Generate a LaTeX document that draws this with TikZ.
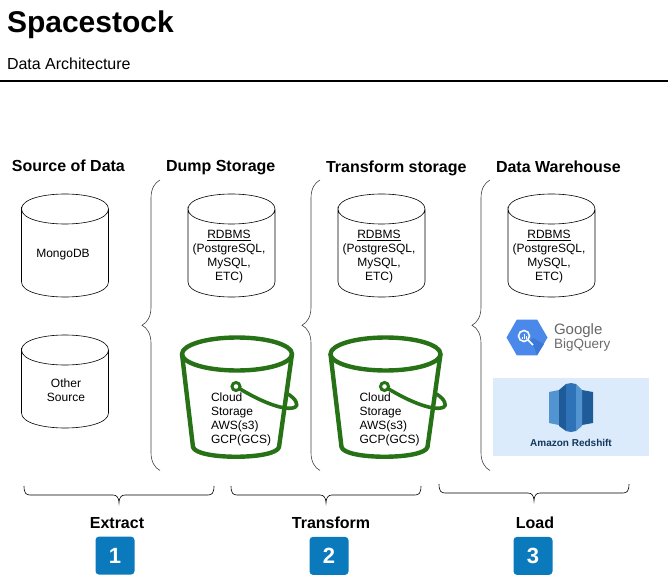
\documentclass[tikz,border=0pt]{standalone}
\usepackage{fontspec}
\setmainfont{Liberation Sans}
\usetikzlibrary{positioning, calc, shapes.geometric, decorations.pathreplacing}
\definecolor{bucketgreen}{HTML}{277116}
\definecolor{badgeblue}{HTML}{0A7ABC}
\definecolor{redshiftbg}{HTML}{DCEBFB}
\definecolor{bqblue}{HTML}{4A89EA}
\definecolor{bqshade}{HTML}{3B78D8}
\definecolor{rsdark}{HTML}{205B99}
\definecolor{rsmid}{HTML}{2E73B8}
\definecolor{rslight}{HTML}{5294CF}
\tikzset{
    x = 1pt,
    y = -1pt,
    inner sep = 0pt,
    outer sep = 0pt,
    heading/.style = {
        font=\fontsize{16}{18}\selectfont\bfseries,
        anchor=base west
    },
    dbtext/.style = {
        font=\fontsize{12}{14}\selectfont,
        align=center
    },
    db/.style = {
        minimum width=87pt,
        anchor=north
    },
    brace/.style = {
        draw,
        semithick,
        color=black!75,
        decorate,
        decoration={brace, amplitude=18pt, aspect=0.5}
    },
    bucketline/.style = {
        draw=bucketgreen,
        line width=4.4pt,
        line join=round
    },
    badge/.style = {
        fill=badgeblue,
        rounded corners=3.5pt,
        minimum width=39pt,
        minimum height=38pt,
        text=white,
        font=\fontsize{22}{24}\selectfont\bfseries
    },
    stage/.style = {
        font=\fontsize{16}{18}\selectfont\bfseries
    }
}
% outline of a database node
\newcommand{\dbdraw}[1]{
    \draw[semithick] ($(#1.north west) + (0, 15)$) .. controls +(0, -20) and +(0, -20) .. ($(#1.north east) + (0, 15)$)
        .. controls +(0, 20) and +(0, 20) .. ($(#1.north west) + (0, 15)$)
        -- ($(#1.south west) + (0, -15)$) .. controls +(0, 20) and +(0, 20) .. ($(#1.south east) + (0, -15)$)
        -- ($(#1.north east) + (0, 15)$);
}

\begin{document}
\begin{tikzpicture}
    \useasboundingbox (0, 0) rectangle (670, 575);

    % header
    \node[anchor=base west, font=\fontsize{30}{32}\selectfont\bfseries] (title) at (7, 33) {Spacestock};
    \node[anchor=base west, font=\fontsize{16}{18}\selectfont] (subtitle) at (7, 69.5) {Data Architecture};
    \coordinate (ruleL) at (0, 81);
    \coordinate (ruleR) at (668, 81);
    \draw[line width=1.5pt] (ruleL) -- (ruleR);

    % column headings
    \node[heading] (source) at (12, 172) {Source of Data};
    \node[heading] (dump) at (166, 172) {Dump Storage};
    \node[heading] (transform) at (326, 173) {Transform storage};
    \node[heading] (warehouse) at (496, 173) {Data Warehouse};

    % databases
    \node[db, minimum height=103pt] (mongo) at (65, 194) {};
    \dbdraw{mongo}
    \node[dbtext] (mongotext) at (63, 255) {MongoDB};
    \node[db, minimum height=93pt] (other) at (65, 335) {};
    \dbdraw{other}
    \node[dbtext] (othertext) at (66, 390) {Other\\Source};
    \foreach \name/\x in {dumpdb/231.5, transformdb/381.5, warehousedb/551.5}{
        \node[db, minimum height=103pt] (\name) at (\x, 194) {};
        \dbdraw{\name}
        \node[dbtext] (\name text) at ($(\name.north) + (-2.5, 63)$) {\underline{RDBMS}\\(PostgreSQL,\\MySQL,\\ETC)};
    }

    % buckets
    \foreach \name/\dx in {dumpbucket/0, transformbucket/148.5}{
        \begin{scope}[xshift=\dx pt]
            \draw[bucketline] (182, 354) -- (193, 447) .. controls (196, 460) and (276, 460) .. (279, 447) -- (292, 354);
            \node[bucketline, ellipse, minimum width=110pt, minimum height=33pt] (\name) at (237, 354) {};
            \node[draw=bucketgreen, line width=3pt, circle, minimum size=8pt] (\name hook) at (236, 386.5) {};
            \draw[bucketline, line width=3.6pt] (\name hook) .. controls (255, 398) and (272, 406) .. (285, 408) .. controls (294, 409) and (299, 407) .. (296, 402) .. controls (295, 399) and (291, 396) .. (288, 394);
            \node[dbtext, align=left, anchor=north west] (\name text) at (211, 393) {Cloud\\Storage\\AWS(s3)\\GCP(GCS)};
        \end{scope}
    }

    % big query logo
    \node[fill=bqblue, regular polygon, regular polygon sides=6, minimum size=41pt] (bqhex) at (527, 337.5) {};
    \fill[bqshade] (529, 342) -- (533, 338) -- (544, 344) -- (537, 355) -- (534, 347) -- cycle;
    \draw[white, line width=1.6pt] (524, 336) circle (5.5) (528, 340) -- (533, 345);
    \draw[white, line width=0.9pt] (522, 339) -- (522, 337) (524, 339) -- (524, 333.5) (526, 339) -- (526, 336);
    \node[anchor=west, text=black!60, font=\fontsize{15}{16}\selectfont] (bqgoogle) at (554, 331) {Google};
    \node[anchor=west, text=black!58, font=\fontsize{13.5}{16}\selectfont] (bqname) at (554, 345.5) {BigQuery};

    % redshift logo
    \node[fill=redshiftbg, anchor=north west, minimum width=156pt, minimum height=78pt] (redshift) at (493, 378) {};
    \fill[rslight] (549, 392) -- (559, 390) -- (559, 425) -- (549, 423) -- cycle;
    \fill[rsdark] (582, 390) -- (593, 392) -- (593, 423) -- (582, 425) -- cycle;
    \fill[rsdark] (559, 390) -- (566, 384) -- (566, 431) -- (559, 426) -- cycle;
    \fill[rsmid] (566, 384) -- (571, 383) -- (576, 384) -- (576, 431) -- (571, 432) -- (566, 431) -- cycle;
    \fill[rslight] (576, 384) -- (582, 390) -- (582, 426) -- (576, 431) -- cycle;
    \node[text=rsdark!60!black, font=\fontsize{10}{11}\selectfont\bfseries] (rsname) at (571, 443) {Amazon Redshift};

    % vertical braces
    \foreach \name/\x in {one/160, two/320, three/490}{
        \coordinate (\name top) at (\x, 180);
        \coordinate (\name bot) at (\x, 470.5);
        \draw[brace] (\name bot) -- (\name top);
    }

    % bottom braces
    \foreach \name/\x/\y in {extract/24/486, transform/231/486, load/439/484}{
        \coordinate (\name L) at (\x, \y);
        \coordinate (\name R) at ($(\name L) + (190, 0)$);
        \coordinate (\name M) at ($(\name L) + (95, 17)$);
        \draw[semithick] (\name L) .. controls +(0, 7) and +(-4, 0) .. ($(\name L) + (6, 9)$)
            -- ($(\name M) + (-6, -8)$) .. controls +(4, 0) and +(0, -5) .. (\name M)
            .. controls +(0, -5) and +(-4, 0) .. ($(\name M) + (6, -8)$)
            -- ($(\name R) + (-6, 9)$) .. controls +(4, 0) and +(0, 7) .. (\name R);
    }

    % stages
    \foreach \name/\x/\txt/\n in {extract/117/Extract/1, transformstage/331/Transform/2, loadstage/535/Load/3}{
        \node[stage] (\name) at (\x, 523) {\txt};
        \node[badge, below=8pt of \name, xshift=-2pt] (\name badge) {\n};
    }
\end{tikzpicture}
\end{document}
